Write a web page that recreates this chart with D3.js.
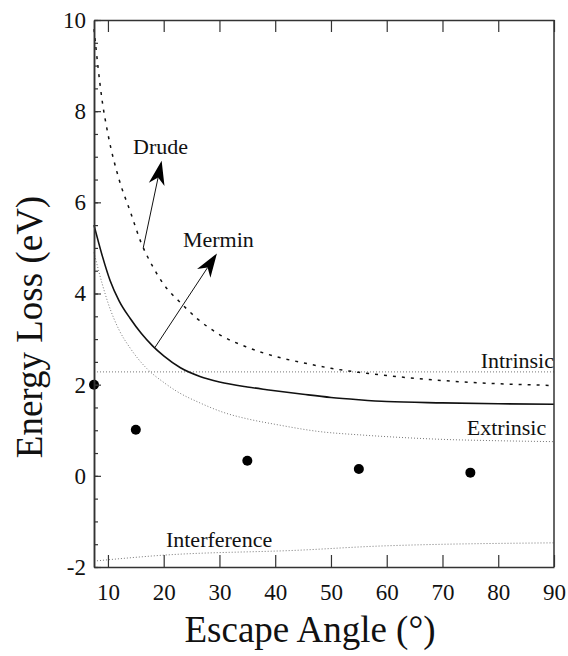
<!DOCTYPE html>
<html>
<head>
<meta charset="utf-8">
<script src="https://cdn.jsdelivr.net/npm/d3@7"></script>
<style>
  body { margin: 0; background: #fff; }
  text { font-family: "Liberation Serif", "Times New Roman", serif; fill: #111; }
</style>
</head>
<body>
<script>
// values (angle in degrees, energy loss in eV)
var drudeAngle = [7.5, 9, 10, 12, 14, 16, 18, 20, 23, 26, 30, 35, 40, 45, 50, 55, 60, 65, 70, 75, 80, 85, 90];
var drudeLoss  = [9.8, 8.2, 7.5, 6.5, 5.8, 5.1, 4.6, 4.2, 3.8, 3.45, 3.1, 2.82, 2.62, 2.48, 2.36, 2.27, 2.2, 2.14, 2.09, 2.05, 2.02, 2.0, 1.98];

var merminAngle = [7.5, 9, 10.4, 12, 14, 16, 18, 20, 23, 26.5, 30, 35, 38.5, 45, 50, 55, 60, 70, 80, 90];
var merminLoss  = [5.5, 4.82, 4.28, 3.84, 3.45, 3.12, 2.85, 2.63, 2.37, 2.18, 2.06, 1.95, 1.89, 1.79, 1.72, 1.67, 1.63, 1.6, 1.58, 1.57];

var extrinsicAngle = [7.5, 9, 10, 12, 14, 17, 20, 22.4, 26.5, 31, 35, 40, 48, 55, 60, 70, 80, 90];
var extrinsicLoss  = [4.9, 4.2, 3.8, 3.2, 2.8, 2.35, 2.05, 1.85, 1.6, 1.38, 1.25, 1.13, 0.97, 0.9, 0.86, 0.8, 0.77, 0.75];

var intrinsicAngle = [7.5, 90];
var intrinsicLoss  = [2.28, 2.28];

var interfAngle = [7.5, 20, 44.5, 58.8, 90];
var interfLoss  = [-1.87, -1.74, -1.63, -1.54, -1.47];

var expAngle = [7.5, 15, 35, 55, 75];
var expLoss  = [2.0, 1.01, 0.33, 0.15, 0.07];

var xTicks = [10, 20, 30, 40, 50, 60, 70, 80, 90];
var yTicks = [-2, 0, 2, 4, 6, 8, 10];
var yMinor = d3.range(-2, 10.01, 0.5);

var W = 568, H = 656;
var margin = { top: 20, right: 14, bottom: 89, left: 94 };

var svg = d3.select('body').append('svg')
  .attr('width', W)
  .attr('height', H);

var x = d3.scaleLinear().domain([7.5, 90]).range([margin.left, W - margin.right]);
var y = d3.scaleLinear().domain([-2, 10]).range([H - margin.bottom, margin.top]);

function zip(a, b) { return a.map(function(v, i) { return [v, b[i]]; }); }

var line = d3.line()
  .x(function(d) { return x(d[0]); })
  .y(function(d) { return y(d[1]); })
  .curve(d3.curveMonotoneX);

// curves
svg.append('path').datum(zip(intrinsicAngle, intrinsicLoss))
  .attr('d', line).attr('fill', 'none')
  .attr('stroke', '#777').attr('stroke-width', 1).attr('stroke-dasharray', '1,2');

svg.append('path').datum(zip(extrinsicAngle, extrinsicLoss))
  .attr('d', line).attr('fill', 'none')
  .attr('stroke', '#777').attr('stroke-width', 1).attr('stroke-dasharray', '1,2');

svg.append('path').datum(zip(interfAngle, interfLoss))
  .attr('d', line).attr('fill', 'none')
  .attr('stroke', '#777').attr('stroke-width', 1).attr('stroke-dasharray', '1,2');

svg.append('path').datum(zip(drudeAngle, drudeLoss))
  .attr('d', line).attr('fill', 'none')
  .attr('stroke', '#111').attr('stroke-width', 1.5).attr('stroke-dasharray', '3,6');

svg.append('path').datum(zip(merminAngle, merminLoss))
  .attr('d', line).attr('fill', 'none')
  .attr('stroke', '#111').attr('stroke-width', 1.6);

// measured points
svg.selectAll('.dot')
  .data(zip(expAngle, expLoss))
  .enter().append('circle')
  .attr('class', 'dot')
  .attr('cx', function(d) { return x(d[0]); })
  .attr('cy', function(d) { return y(d[1]); })
  .attr('r', 5)
  .attr('fill', '#000');

// axes
var axisColor = '#333';

var gx = svg.append('g')
  .attr('transform', 'translate(0,' + (H - margin.bottom) + ')')
  .call(d3.axisBottom(x).tickValues(xTicks).tickSizeInner(-12).tickSizeOuter(0).tickPadding(17));

var gxTop = svg.append('g')
  .attr('transform', 'translate(0,' + margin.top + ')')
  .call(d3.axisTop(x).tickValues(xTicks).tickSizeInner(-12).tickSizeOuter(0).tickFormat(''));

var gyMinor = svg.append('g')
  .attr('transform', 'translate(' + margin.left + ',0)')
  .call(d3.axisLeft(y).tickValues(yMinor).tickSizeInner(-4).tickSizeOuter(0).tickFormat(''));

var gy = svg.append('g')
  .attr('transform', 'translate(' + margin.left + ',0)')
  .call(d3.axisLeft(y).tickValues(yTicks).tickSizeInner(-7).tickSizeOuter(0).tickPadding(8)
    .tickFormat(function(d) { return d; }));

svg.append('line')
  .attr('x1', W - margin.right).attr('x2', W - margin.right)
  .attr('y1', margin.top).attr('y2', H - margin.bottom)
  .attr('stroke', axisColor).attr('stroke-width', 1.5);

[gx, gxTop, gy, gyMinor].forEach(function(g) {
  g.attr('font-family', '"Liberation Serif", serif');
  g.select('.domain').attr('stroke', axisColor).attr('stroke-width', 1.5);
  g.selectAll('.tick line').attr('stroke', axisColor).attr('stroke-width', 1.2);
  g.selectAll('.tick text')
    .style('font-family', '"Liberation Serif", serif')
    .style('font-size', '23px')
    .attr('fill', '#111');
});

// axis titles
svg.append('text')
  .attr('x', 310).attr('y', 642)
  .attr('text-anchor', 'middle')
  .style('font-size', '37px')
  .text('Escape Angle (°)');

svg.append('text')
  .attr('transform', 'translate(42,327) rotate(-90)')
  .attr('text-anchor', 'middle')
  .style('font-size', '37px')
  .text('Energy Loss (eV)');

// arrows
var arrows = [
  { from: [16.33, 5.0], to: [19.63, 6.91] },
  { from: [18.4, 2.81], to: [29.55, 4.88] }
];

arrows.forEach(function(a) {
  var x0 = x(a.from[0]), y0 = y(a.from[1]);
  var x1 = x(a.to[0]), y1 = y(a.to[1]);
  var dx = x1 - x0, dy = y1 - y0, len = Math.sqrt(dx * dx + dy * dy);
  var ux = dx / len, uy = dy / len, px = -uy, py = ux;
  var headLen = 24, halfW = 8, notch = 17;
  svg.append('line')
    .attr('x1', x0).attr('y1', y0)
    .attr('x2', x1 - ux * notch).attr('y2', y1 - uy * notch)
    .attr('stroke', '#111').attr('stroke-width', 1);
  var pts = [
    [x1, y1],
    [x1 - ux * headLen + px * halfW, y1 - uy * headLen + py * halfW],
    [x1 - ux * notch, y1 - uy * notch],
    [x1 - ux * headLen - px * halfW, y1 - uy * headLen - py * halfW]
  ];
  svg.append('path')
    .attr('d', 'M' + pts.join('L') + 'Z')
    .attr('fill', '#000');
});

// curve labels
var labels = [
  { text: 'Drude', at: [14.5, 7.05], anchor: 'start' },
  { text: 'Mermin', at: [23.45, 5.01], anchor: 'start' },
  { text: 'Intrinsic', at: [90, 2.37], anchor: 'end' },
  { text: 'Extrinsic', at: [88.6, 0.9], anchor: 'end' },
  { text: 'Interference', at: [20.4, -1.56], anchor: 'start' }
];

svg.selectAll('.lbl')
  .data(labels)
  .enter().append('text')
  .attr('class', 'lbl')
  .attr('x', function(d) { return x(d.at[0]); })
  .attr('y', function(d) { return y(d.at[1]); })
  .attr('text-anchor', function(d) { return d.anchor; })
  .style('font-size', '22px')
  .text(function(d) { return d.text; });
</script>
</body>
</html>
